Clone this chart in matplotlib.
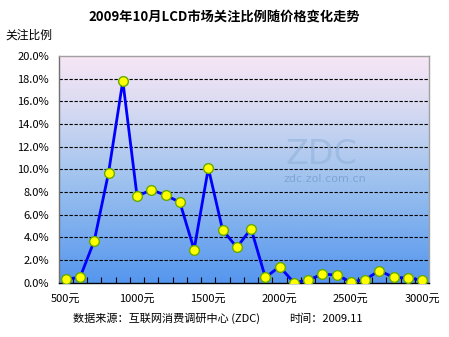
import numpy as np
import matplotlib
matplotlib.use("Agg")
import matplotlib.pyplot as plt
from matplotlib.colors import LinearSegmentedColormap

plt.rcParams['font.family'] = ['Noto Sans CJK SC', 'DejaVu Sans']

# Price points (yuan) and share of attention (%)
prices = [500, 600, 700, 800, 900, 1000, 1100, 1200, 1300, 1400, 1500, 1600, 1700,
          1800, 1900, 2000, 2100, 2200, 2300, 2400, 2500, 2600, 2700, 2800, 2900, 3000]
shares = [0.3, 0.45, 3.7, 9.7, 17.8, 7.6, 8.2, 7.7, 7.1, 2.9, 10.1, 4.65, 3.1,
          4.75, 0.45, 1.4, 0.0, 0.2, 0.75, 0.65, 0.05, 0.25, 1.05, 0.45, 0.4, 0.2]
xtick_values = [500, 1000, 1500, 2000, 2500, 3000]
xtick_labels = ['500元', '1000元', '1500元', '2000元', '2500元', '3000元']
ytick_values = [0, 2, 4, 6, 8, 10, 12, 14, 16, 18, 20]

title = '2009年10月LCD市场关注比例随价格变化走势'
ylabel = '关注比例'
source = '数据来源：互联网消费调研中心 (ZDC)'
date = '时间：2009.11'

fig = plt.figure(figsize=(4.49, 3.37), dpi=100)
ax = fig.add_axes([0.1307, 0.1617, 0.8253, 0.672])

# vertical background gradient: lavender at top, blue at bottom
cmap = LinearSegmentedColormap.from_list(
    'bg', [(0.0, '#5596ee'), (0.45, '#9ec2ee'), (0.8, '#dcdcf2'), (1.0, '#f7e6f6')])
grad = np.linspace(0, 1, 256).reshape(-1, 1)
ax.imshow(grad, cmap=cmap, aspect='auto', origin='lower',
          extent=[0, 1, 0, 1], transform=ax.transAxes, zorder=0)

ax.set_xlim(450, 3050)
ax.set_ylim(0, 20)

# dashed gridlines
for v in ytick_values[1:-1]:
    ax.axhline(v, color='black', lw=0.8, ls=(0, (3, 1.5)), zorder=1)

# watermark
ax.text(0.708, 0.565, 'ZDC', transform=ax.transAxes, ha='center', va='center',
        fontsize=24, color='#8fb0d8', alpha=0.55, family='DejaVu Sans', zorder=1)
ax.text(0.719, 0.455, 'zdc.zol.com.cn', transform=ax.transAxes, ha='center', va='center',
        fontsize=8, color='#7a9fd0', alpha=0.85, family='DejaVu Sans', zorder=2)

ax.plot(prices, shares, color='#0000ff', lw=2, zorder=3,
        marker='o', markersize=7, markerfacecolor='#ffff00',
        markeredgecolor='#66aa00', markeredgewidth=1)

ax.set_yticks(ytick_values)
ax.set_yticklabels([f'{v:.1f}%' for v in ytick_values])
ax.set_xticks(xtick_values)
ax.set_xticklabels(xtick_labels)
ax.set_xticks(np.arange(550, 3000, 100), minor=True)
ax.tick_params(axis='x', which='major', length=0, pad=8, labelsize=8)
ax.tick_params(axis='x', which='minor', direction='in', length=4, width=0.8)
ax.tick_params(axis='y', length=0, pad=7, labelsize=8)

ax.spines['left'].set_color('#707070')
ax.spines['bottom'].set_color('black')
ax.spines['top'].set_color('#a0a0a0')
ax.spines['right'].set_color('#a0a0a0')
for s in ax.spines.values():
    s.set_linewidth(1)

fig.text(0.5, 0.952, title, ha='center', va='center', fontsize=9.5, fontweight='bold')
fig.text(0.012, 0.895, ylabel, ha='left', va='center', fontsize=8.5)
fig.text(0.163, 0.055, source, ha='left', va='center', fontsize=8)
fig.text(0.645, 0.055, date, ha='left', va='center', fontsize=8)

fig.savefig('out.png', dpi=100)
